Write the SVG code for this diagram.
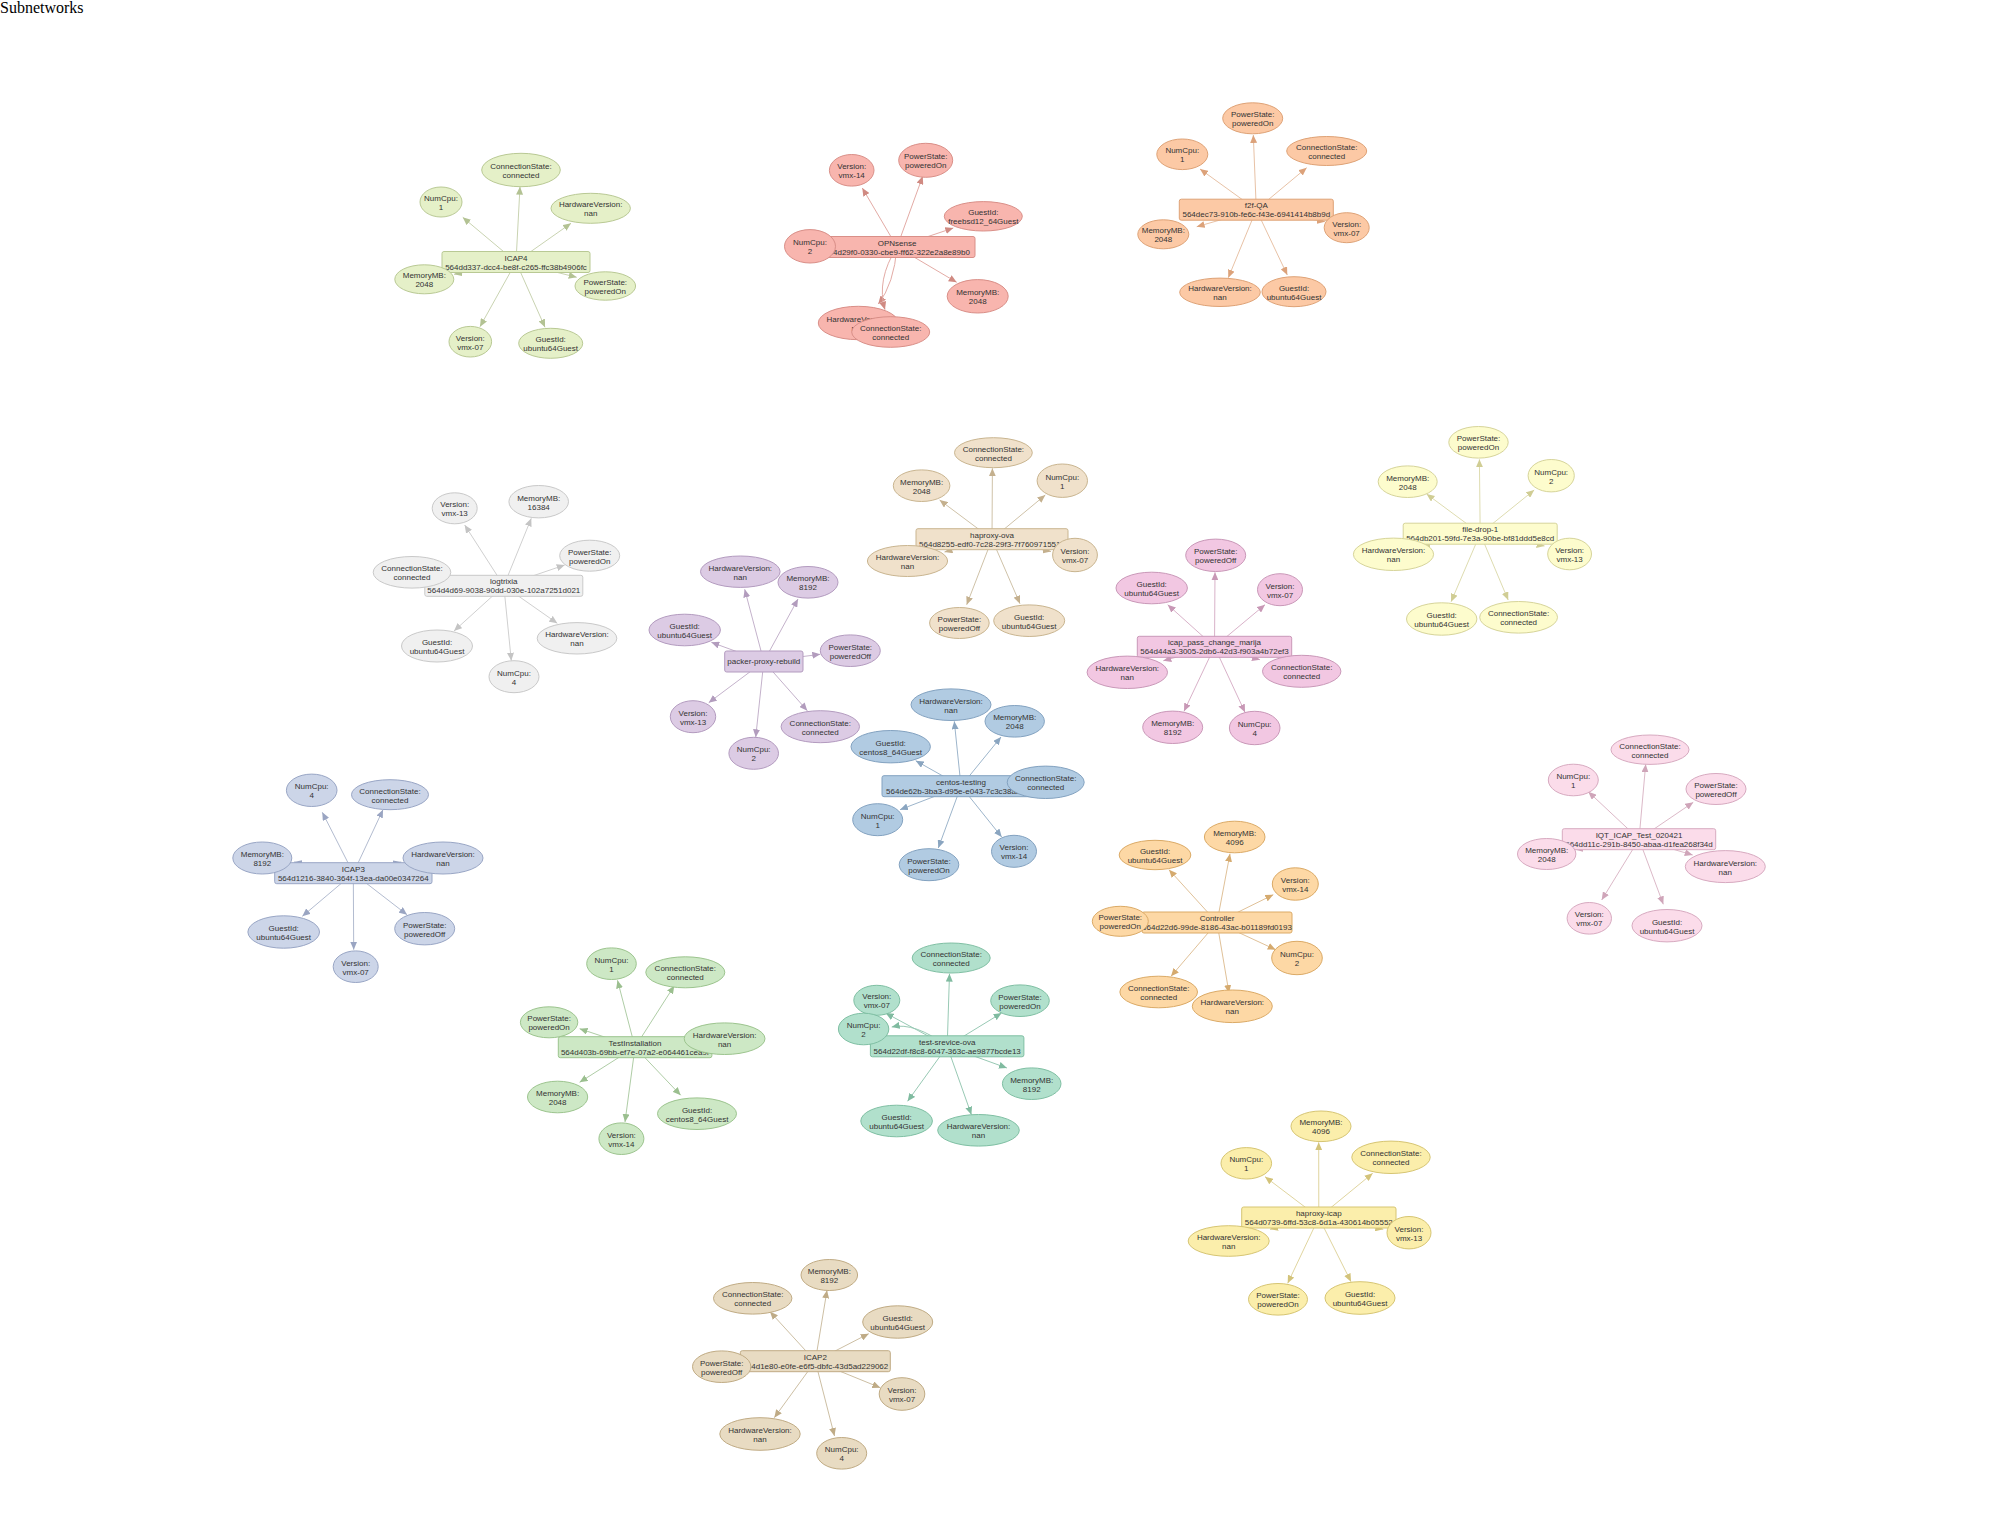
<svg xmlns="http://www.w3.org/2000/svg" width="1992" height="1534" viewBox="0 0 1992 1534">
<style>
text{font-family:"Liberation Sans",Arial,sans-serif;font-size:8px;fill:#333;text-anchor:middle}
.title{font-family:"Liberation Serif","Times New Roman",serif;font-size:16px;fill:#000;text-anchor:start}
ellipse,rect{stroke-width:1}
#edges line,#edges path{fill:none;stroke-width:1}
.c1 ellipse,.c1 rect{fill:#e5f0c8;stroke:#b9c994}.k1 *{stroke:#c9d3b1;marker-end:url(#a1)}
.c2 ellipse,.c2 rect{fill:#f8b5ae;stroke:#d98f88}.k2 *{stroke:#e3aba5;marker-end:url(#a2)}
.c3 ellipse,.c3 rect{fill:#fcc9a5;stroke:#dea276}.k3 *{stroke:#e8c2a6;marker-end:url(#a3)}
.c4 ellipse,.c4 rect{fill:#f0f0f0;stroke:#c9c9c9}.k4 *{stroke:#d0d0d0;marker-end:url(#a4)}
.c5 ellipse,.c5 rect{fill:#f0e1cb;stroke:#c9b590}.k5 *{stroke:#cfc2a8;marker-end:url(#a5)}
.c6 ellipse,.c6 rect{fill:#fdfccd;stroke:#d6d49a}.k6 *{stroke:#dedcb0;marker-end:url(#a6)}
.c7 ellipse,.c7 rect{fill:#dccbe4;stroke:#b39bbf}.k7 *{stroke:#c4b2cb;marker-end:url(#a7)}
.c8 ellipse,.c8 rect{fill:#f2c7e2;stroke:#c998b8}.k8 *{stroke:#d9b2c9;marker-end:url(#a8)}
.c9 ellipse,.c9 rect{fill:#b1cbe2;stroke:#83a2c0}.k9 *{stroke:#9db5cb;marker-end:url(#a9)}
.c10 ellipse,.c10 rect{fill:#ccd5e8;stroke:#99a6c5}.k10 *{stroke:#b3bcd0;marker-end:url(#a10)}
.c11 ellipse,.c11 rect{fill:#fbdcea;stroke:#d7aac0}.k11 *{stroke:#dcb9c8;marker-end:url(#a11)}
.c12 ellipse,.c12 rect{fill:#fdd8a5;stroke:#dbaa66}.k12 *{stroke:#e0c198;marker-end:url(#a12)}
.c13 ellipse,.c13 rect{fill:#cde8c5;stroke:#9cc48e}.k13 *{stroke:#afcda6;marker-end:url(#a13)}
.c14 ellipse,.c14 rect{fill:#b1e0cc;stroke:#7fbfa3}.k14 *{stroke:#98c9b4;marker-end:url(#a14)}
.c15 ellipse,.c15 rect{fill:#fbeeab;stroke:#d6c573}.k15 *{stroke:#e0d59f;marker-end:url(#a15)}
.c16 ellipse,.c16 rect{fill:#e8dbc2;stroke:#c0ab84}.k16 *{stroke:#cdbfa4;marker-end:url(#a16)}
</style>
<defs>
<marker id="a1" viewBox="0 0 8 7" refX="8" refY="3.5" markerWidth="8" markerHeight="7" markerUnits="userSpaceOnUse" orient="auto"><path d="M0,0L8,3.5L0,7z" fill="#b3c293"/></marker>
<marker id="a2" viewBox="0 0 8 7" refX="8" refY="3.5" markerWidth="8" markerHeight="7" markerUnits="userSpaceOnUse" orient="auto"><path d="M0,0L8,3.5L0,7z" fill="#d08a82"/></marker>
<marker id="a3" viewBox="0 0 8 7" refX="8" refY="3.5" markerWidth="8" markerHeight="7" markerUnits="userSpaceOnUse" orient="auto"><path d="M0,0L8,3.5L0,7z" fill="#dca27a"/></marker>
<marker id="a4" viewBox="0 0 8 7" refX="8" refY="3.5" markerWidth="8" markerHeight="7" markerUnits="userSpaceOnUse" orient="auto"><path d="M0,0L8,3.5L0,7z" fill="#c4c4c4"/></marker>
<marker id="a5" viewBox="0 0 8 7" refX="8" refY="3.5" markerWidth="8" markerHeight="7" markerUnits="userSpaceOnUse" orient="auto"><path d="M0,0L8,3.5L0,7z" fill="#c4b08e"/></marker>
<marker id="a6" viewBox="0 0 8 7" refX="8" refY="3.5" markerWidth="8" markerHeight="7" markerUnits="userSpaceOnUse" orient="auto"><path d="M0,0L8,3.5L0,7z" fill="#d0cd94"/></marker>
<marker id="a7" viewBox="0 0 8 7" refX="8" refY="3.5" markerWidth="8" markerHeight="7" markerUnits="userSpaceOnUse" orient="auto"><path d="M0,0L8,3.5L0,7z" fill="#b29cbd"/></marker>
<marker id="a8" viewBox="0 0 8 7" refX="8" refY="3.5" markerWidth="8" markerHeight="7" markerUnits="userSpaceOnUse" orient="auto"><path d="M0,0L8,3.5L0,7z" fill="#c898b6"/></marker>
<marker id="a9" viewBox="0 0 8 7" refX="8" refY="3.5" markerWidth="8" markerHeight="7" markerUnits="userSpaceOnUse" orient="auto"><path d="M0,0L8,3.5L0,7z" fill="#8aa5c0"/></marker>
<marker id="a10" viewBox="0 0 8 7" refX="8" refY="3.5" markerWidth="8" markerHeight="7" markerUnits="userSpaceOnUse" orient="auto"><path d="M0,0L8,3.5L0,7z" fill="#9aa5c2"/></marker>
<marker id="a11" viewBox="0 0 8 7" refX="8" refY="3.5" markerWidth="8" markerHeight="7" markerUnits="userSpaceOnUse" orient="auto"><path d="M0,0L8,3.5L0,7z" fill="#cfa5b9"/></marker>
<marker id="a12" viewBox="0 0 8 7" refX="8" refY="3.5" markerWidth="8" markerHeight="7" markerUnits="userSpaceOnUse" orient="auto"><path d="M0,0L8,3.5L0,7z" fill="#d5aa6e"/></marker>
<marker id="a13" viewBox="0 0 8 7" refX="8" refY="3.5" markerWidth="8" markerHeight="7" markerUnits="userSpaceOnUse" orient="auto"><path d="M0,0L8,3.5L0,7z" fill="#9bbf8f"/></marker>
<marker id="a14" viewBox="0 0 8 7" refX="8" refY="3.5" markerWidth="8" markerHeight="7" markerUnits="userSpaceOnUse" orient="auto"><path d="M0,0L8,3.5L0,7z" fill="#80bba0"/></marker>
<marker id="a15" viewBox="0 0 8 7" refX="8" refY="3.5" markerWidth="8" markerHeight="7" markerUnits="userSpaceOnUse" orient="auto"><path d="M0,0L8,3.5L0,7z" fill="#d3c37a"/></marker>
<marker id="a16" viewBox="0 0 8 7" refX="8" refY="3.5" markerWidth="8" markerHeight="7" markerUnits="userSpaceOnUse" orient="auto"><path d="M0,0L8,3.5L0,7z" fill="#bfab86"/></marker>
</defs>
<rect width="1992" height="1534" fill="#fff"/>
<text class="title" x="0" y="13">Subnetworks</text>
<g id="edges">
<g class="k1">
<line x1="516" y1="262" x2="462.7" y2="217.3"/><line x1="516" y1="262" x2="520" y2="186.7"/><line x1="516" y1="262" x2="571" y2="223.3"/><line x1="516" y1="262" x2="454" y2="274.3"/><line x1="516" y1="262" x2="576.7" y2="277.3"/><line x1="516" y1="262" x2="480" y2="326.7"/><line x1="516" y1="262" x2="545" y2="327.3"/>
</g>
<g class="k2">
<line x1="897" y1="247" x2="862.3" y2="188"/><line x1="897" y1="247" x2="922.7" y2="176.3"/><line x1="897" y1="247" x2="953.3" y2="228"/><line x1="897" y1="247" x2="835.5" y2="246.5"/><line x1="897" y1="247" x2="956.7" y2="282.3"/><path d="M897,247Q894,284 878.3,304"/><path d="M897,247Q876,280 885,309.7"/>
</g>
<g class="k3">
<line x1="1256.3" y1="209.7" x2="1253.3" y2="135"/><line x1="1256.3" y1="209.7" x2="1200" y2="169"/><line x1="1256.3" y1="209.7" x2="1306.7" y2="167.7"/><line x1="1256.3" y1="209.7" x2="1196.7" y2="226.7"/><line x1="1256.3" y1="209.7" x2="1325" y2="221.7"/><line x1="1256.3" y1="209.7" x2="1228.3" y2="277.7"/><line x1="1256.3" y1="209.7" x2="1287.3" y2="275"/>
</g>
<g class="k4">
<line x1="503.8" y1="585.8" x2="464.7" y2="525"/><line x1="503.8" y1="585.8" x2="531.3" y2="518.3"/><line x1="503.8" y1="585.8" x2="564.7" y2="565"/><line x1="503.8" y1="585.8" x2="448.5" y2="577.7"/><line x1="503.8" y1="585.8" x2="454" y2="631"/><line x1="503.8" y1="585.8" x2="557.3" y2="623.3"/><line x1="503.8" y1="585.8" x2="511.3" y2="660.7"/>
</g>
<g class="k5">
<line x1="992" y1="539.2" x2="992.4" y2="468.3"/><line x1="992" y1="539.2" x2="939.6" y2="500"/><line x1="992" y1="539.2" x2="1045.3" y2="495"/><line x1="992" y1="539.2" x2="944.5" y2="552"/><line x1="992" y1="539.2" x2="1051" y2="551.5"/><line x1="992" y1="539.2" x2="966.7" y2="604.7"/><line x1="992" y1="539.2" x2="1020" y2="603.7"/>
</g>
<g class="k6">
<line x1="1480.2" y1="533.7" x2="1479.4" y2="459.3"/><line x1="1480.2" y1="533.7" x2="1426.6" y2="494"/><line x1="1480.2" y1="533.7" x2="1534.2" y2="490"/><line x1="1480.2" y1="533.7" x2="1421.9" y2="546"/><line x1="1480.2" y1="533.7" x2="1544.6" y2="546"/><line x1="1480.2" y1="533.7" x2="1451.1" y2="601.7"/><line x1="1480.2" y1="533.7" x2="1508.2" y2="600"/>
</g>
<g class="k7">
<line x1="763.8" y1="661.5" x2="744.7" y2="589.3"/><line x1="763.8" y1="661.5" x2="798" y2="599"/><line x1="763.8" y1="661.5" x2="711.3" y2="642.3"/><line x1="763.8" y1="661.5" x2="820.3" y2="654.3"/><line x1="763.8" y1="661.5" x2="708.7" y2="702.7"/><line x1="763.8" y1="661.5" x2="807.3" y2="710.7"/><line x1="763.8" y1="661.5" x2="755.7" y2="737.3"/>
</g>
<g class="k8">
<line x1="1214.5" y1="646.8" x2="1215" y2="572.3"/><line x1="1214.5" y1="646.8" x2="1167.7" y2="604.7"/><line x1="1214.5" y1="646.8" x2="1265" y2="604.7"/><line x1="1214.5" y1="646.8" x2="1163.3" y2="660.7"/><line x1="1214.5" y1="646.8" x2="1260" y2="659.7"/><line x1="1214.5" y1="646.8" x2="1184" y2="711.3"/><line x1="1214.5" y1="646.8" x2="1245" y2="712.3"/>
</g>
<g class="k9">
<line x1="961" y1="786.2" x2="954.3" y2="721.3"/><line x1="961" y1="786.2" x2="1001" y2="737"/><line x1="961" y1="786.2" x2="915.7" y2="760.7"/><line x1="961" y1="786.2" x2="1007.2" y2="784"/><line x1="961" y1="786.2" x2="900" y2="809.7"/><line x1="961" y1="786.2" x2="938.3" y2="848"/><line x1="961" y1="786.2" x2="1001.7" y2="837"/>
</g>
<g class="k10">
<line x1="353.3" y1="873.2" x2="322.3" y2="812.3"/><line x1="353.3" y1="873.2" x2="383" y2="809.7"/><line x1="353.3" y1="873.2" x2="294" y2="862"/><line x1="353.3" y1="873.2" x2="401.3" y2="862"/><line x1="353.3" y1="873.2" x2="302.3" y2="916.3"/><line x1="353.3" y1="873.2" x2="407" y2="914.7"/><line x1="353.3" y1="873.2" x2="353.7" y2="949.7"/>
</g>
<g class="k11">
<line x1="1639" y1="839.2" x2="1588.3" y2="791.7"/><line x1="1639" y1="839.2" x2="1645.7" y2="764.3"/><line x1="1639" y1="839.2" x2="1693.3" y2="802.3"/><line x1="1639" y1="839.2" x2="1574.7" y2="849.5"/><line x1="1639" y1="839.2" x2="1692.7" y2="855"/><line x1="1639" y1="839.2" x2="1601.7" y2="900"/><line x1="1639" y1="839.2" x2="1663.3" y2="904.3"/>
</g>
<g class="k12">
<line x1="1217" y1="922.5" x2="1169" y2="869.7"/><line x1="1217" y1="922.5" x2="1230" y2="853.7"/><line x1="1217" y1="922.5" x2="1273.3" y2="894.7"/><line x1="1217" y1="922.5" x2="1148.3" y2="921.6"/><line x1="1217" y1="922.5" x2="1275.7" y2="949.7"/><line x1="1217" y1="922.5" x2="1171" y2="976.3"/><line x1="1217" y1="922.5" x2="1229" y2="993"/>
</g>
<g class="k13">
<line x1="635" y1="1047.2" x2="617.5" y2="980.3"/><line x1="635" y1="1047.2" x2="674.3" y2="985.7"/><line x1="635" y1="1047.2" x2="579.6" y2="1028.7"/><line x1="635" y1="1047.2" x2="685.4" y2="1042.4"/><line x1="635" y1="1047.2" x2="579.6" y2="1082.3"/><line x1="635" y1="1047.2" x2="680.7" y2="1095.3"/><line x1="635" y1="1047.2" x2="625" y2="1122"/>
</g>
<g class="k14">
<line x1="947.2" y1="1046.3" x2="949.5" y2="973.7"/><line x1="947.2" y1="1046.3" x2="885.6" y2="1013"/><line x1="947.2" y1="1046.3" x2="1001.6" y2="1013"/><path d="M947.2,1046.3Q915,1022 891.7,1027"/><line x1="947.2" y1="1046.3" x2="1006.9" y2="1068"/><line x1="947.2" y1="1046.3" x2="907.6" y2="1101.3"/><line x1="947.2" y1="1046.3" x2="971.4" y2="1114.7"/>
</g>
<g class="k15">
<line x1="1318.8" y1="1217.5" x2="1318.7" y2="1142.3"/><line x1="1318.8" y1="1217.5" x2="1265" y2="1176.7"/><line x1="1318.8" y1="1217.5" x2="1372.7" y2="1173.3"/><line x1="1318.8" y1="1217.5" x2="1270" y2="1229.3"/><line x1="1318.8" y1="1217.5" x2="1383.3" y2="1229.3"/><line x1="1318.8" y1="1217.5" x2="1287.7" y2="1283.3"/><line x1="1318.8" y1="1217.5" x2="1351" y2="1281.7"/>
</g>
<g class="k16">
<line x1="815.3" y1="1361.2" x2="770" y2="1311.7"/><line x1="815.3" y1="1361.2" x2="827" y2="1290.3"/><line x1="815.3" y1="1361.2" x2="868.7" y2="1333.7"/><line x1="815.3" y1="1361.2" x2="750.9" y2="1365"/><line x1="815.3" y1="1361.2" x2="880.3" y2="1387.7"/><line x1="815.3" y1="1361.2" x2="774.3" y2="1417.7"/><line x1="815.3" y1="1361.2" x2="834.5" y2="1436"/>
</g>
</g>
<g id="vms">
<g id="icap4" class="c1"><rect x="442" y="251.5" width="148" height="21" rx="2"/><text x="516" y="260.5">ICAP4<tspan x="516" dy="9">564dd337-dcc4-be8f-c265-ffc38b4906fc</tspan></text></g>
<g id="opnsense" class="c2"><rect x="819" y="236.5" width="156" height="21" rx="2"/><text x="897" y="245.5">OPNsense<tspan x="897" dy="9">564d29f0-0330-cbe9-ff62-322e2a8e89b0</tspan></text></g>
<g id="f2f-qa" class="c3"><rect x="1179.3" y="199.2" width="154" height="21" rx="2"/><text x="1256.3" y="208.2">f2f-QA<tspan x="1256.3" dy="9">564dec73-910b-fe6c-f43e-6941414b8b9d</tspan></text></g>
<g id="logtrixia" class="c4"><rect x="424.8" y="575.3" width="158" height="21" rx="2"/><text x="503.8" y="584.3">logtrixia<tspan x="503.8" dy="9">564d4d69-9038-90dd-030e-102a7251d021</tspan></text></g>
<g id="haproxy-ova" class="c5"><rect x="916" y="528.7" width="152" height="21" rx="2"/><text x="992" y="537.7">haproxy-ova<tspan x="992" dy="9">564d8255-edf0-7c28-29f3-7f7609715510</tspan></text></g>
<g id="file-drop-1" class="c6"><rect x="1403.2" y="523.2" width="154" height="21" rx="2"/><text x="1480.2" y="532.2">file-drop-1<tspan x="1480.2" dy="9">564db201-59fd-7e3a-90be-bf81ddd5e8cd</tspan></text></g>
<g id="packer-proxy-rebuild" class="c7"><rect x="724.7" y="651" width="78.3" height="21" rx="2"/><text x="763.8" y="664.3">packer-proxy-rebuild</text></g>
<g id="icap_pass_change_marija" class="c8"><rect x="1137.3" y="636.3" width="154.4" height="21" rx="2"/><text x="1214.5" y="645.3">icap_pass_change_marija<tspan x="1214.5" dy="9">564d44a3-3005-2db6-42d3-f903a4b72ef3</tspan></text></g>
<g id="centos-testing" class="c9"><rect x="882" y="775.7" width="158" height="21" rx="2"/><text x="961" y="784.7">centos-testing<tspan x="961" dy="9">564de62b-3ba3-d95e-e043-7c3c38a2f1d4</tspan></text></g>
<g id="icap3" class="c10"><rect x="274.7" y="862.7" width="157.3" height="21" rx="2"/><text x="353.3" y="871.7">ICAP3<tspan x="353.3" dy="9">564d1216-3840-364f-13ea-da00e0347264</tspan></text></g>
<g id="iqt_icap_test_020421" class="c11"><rect x="1562.3" y="828.7" width="153.4" height="21" rx="2"/><text x="1639" y="837.7">IQT_ICAP_Test_020421<tspan x="1639" dy="9">564dd11c-291b-8450-abaa-d1fea268f34d</tspan></text></g>
<g id="controller" class="c12"><rect x="1142" y="912" width="150" height="21" rx="2"/><text x="1217" y="921">Controller<tspan x="1217" dy="9">564d22d6-99de-8186-43ac-b01189fd0193</tspan></text></g>
<g id="testinstallation" class="c13"><rect x="558.3" y="1036.7" width="153.6" height="21" rx="2"/><text x="635" y="1045.7">TestInstallation<tspan x="635" dy="9">564d403b-69bb-ef7e-07a2-e064461cea9f</tspan></text></g>
<g id="test-srevice-ova" class="c14"><rect x="870.4" y="1035.8" width="153.5" height="21" rx="2"/><text x="947.2" y="1044.8">test-srevice-ova<tspan x="947.2" dy="9">564d22df-f8c8-6047-363c-ae9877bcde13</tspan></text></g>
<g id="haproxy-icap" class="c15"><rect x="1241.7" y="1207" width="154.3" height="21" rx="2"/><text x="1318.8" y="1216">haproxy-icap<tspan x="1318.8" dy="9">564d0739-6ffd-53c8-6d1a-430614b05552</tspan></text></g>
<g id="icap2" class="c16"><rect x="740.3" y="1350.7" width="150" height="21" rx="2"/><text x="815.3" y="1359.7">ICAP2<tspan x="815.3" dy="9">564d1e80-e0fe-e6f5-dbfc-43d5ad229062</tspan></text></g>
</g>
<g id="attributes">
<g id="icap4-numcpu" class="c1"><ellipse cx="441" cy="202" rx="21" ry="15"/><text x="441" y="201">NumCpu:<tspan x="441" dy="9">1</tspan></text></g>
<g id="icap4-conn" class="c1"><ellipse cx="521" cy="170" rx="39.3" ry="16.7"/><text x="521" y="169">ConnectionState:<tspan x="521" dy="9">connected</tspan></text></g>
<g id="icap4-hw" class="c1"><ellipse cx="590.7" cy="208.3" rx="39.7" ry="15"/><text x="590.7" y="207.3">HardwareVersion:<tspan x="590.7" dy="9">nan</tspan></text></g>
<g id="icap4-mem" class="c1"><ellipse cx="424.3" cy="279.3" rx="29.5" ry="14.5"/><text x="424.3" y="278.3">MemoryMB:<tspan x="424.3" dy="9">2048</tspan></text></g>
<g id="icap4-power" class="c1"><ellipse cx="605.3" cy="286" rx="30.3" ry="14.2"/><text x="605.3" y="285">PowerState:<tspan x="605.3" dy="9">poweredOn</tspan></text></g>
<g id="icap4-ver" class="c1"><ellipse cx="470.3" cy="341.7" rx="21.3" ry="15.3"/><text x="470.3" y="340.7">Version:<tspan x="470.3" dy="9">vmx-07</tspan></text></g>
<g id="icap4-guest" class="c1"><ellipse cx="550.7" cy="343.3" rx="32" ry="15"/><text x="550.7" y="342.3">GuestId:<tspan x="550.7" dy="9">ubuntu64Guest</tspan></text></g>

<g id="opn-ver" class="c2"><ellipse cx="851.7" cy="170.3" rx="22.3" ry="15.8"/><text x="851.7" y="169.3">Version:<tspan x="851.7" dy="9">vmx-14</tspan></text></g>
<g id="opn-power" class="c2"><ellipse cx="925.7" cy="160.3" rx="27" ry="17"/><text x="925.7" y="159.3">PowerState:<tspan x="925.7" dy="9">poweredOn</tspan></text></g>
<g id="opn-guest" class="c2"><ellipse cx="983.3" cy="216.3" rx="39" ry="14.7"/><text x="983.3" y="215.3">GuestId:<tspan x="983.3" dy="9">freebsd12_64Guest</tspan></text></g>
<g id="opn-numcpu" class="c2"><ellipse cx="810" cy="246.3" rx="25.5" ry="16.7"/><text x="810" y="245.3">NumCpu:<tspan x="810" dy="9">2</tspan></text></g>
<g id="opn-mem" class="c2"><ellipse cx="977.7" cy="296.3" rx="30.5" ry="16.7"/><text x="977.7" y="295.3">MemoryMB:<tspan x="977.7" dy="9">2048</tspan></text></g>
<g id="opn-hw" class="c2"><ellipse cx="858.3" cy="323" rx="40" ry="16.7"/><text x="858.3" y="322">HardwareVersion:<tspan x="858.3" dy="9">nan</tspan></text></g>
<g id="opn-conn" class="c2"><ellipse cx="890.7" cy="332" rx="39" ry="15.3"/><text x="890.7" y="331">ConnectionState:<tspan x="890.7" dy="9">connected</tspan></text></g>

<g id="f2f-power" class="c3"><ellipse cx="1252.7" cy="118.3" rx="30" ry="15.5"/><text x="1252.7" y="117.3">PowerState:<tspan x="1252.7" dy="9">poweredOn</tspan></text></g>
<g id="f2f-numcpu" class="c3"><ellipse cx="1182.3" cy="154.3" rx="25.5" ry="15.3"/><text x="1182.3" y="153.3">NumCpu:<tspan x="1182.3" dy="9">1</tspan></text></g>
<g id="f2f-conn" class="c3"><ellipse cx="1326.7" cy="151" rx="40" ry="14.5"/><text x="1326.7" y="150">ConnectionState:<tspan x="1326.7" dy="9">connected</tspan></text></g>
<g id="f2f-mem" class="c3"><ellipse cx="1163.3" cy="234.3" rx="25.5" ry="14.5"/><text x="1163.3" y="233.3">MemoryMB:<tspan x="1163.3" dy="9">2048</tspan></text></g>
<g id="f2f-ver" class="c3"><ellipse cx="1346.7" cy="227.7" rx="22.5" ry="15"/><text x="1346.7" y="226.7">Version:<tspan x="1346.7" dy="9">vmx-07</tspan></text></g>
<g id="f2f-hw" class="c3"><ellipse cx="1220" cy="292.3" rx="40.3" ry="14.2"/><text x="1220" y="291.3">HardwareVersion:<tspan x="1220" dy="9">nan</tspan></text></g>
<g id="f2f-guest" class="c3"><ellipse cx="1294" cy="291.7" rx="32" ry="15"/><text x="1294" y="290.7">GuestId:<tspan x="1294" dy="9">ubuntu64Guest</tspan></text></g>

<g id="log-ver" class="c4"><ellipse cx="454.7" cy="508.3" rx="22.5" ry="15.5"/><text x="454.7" y="507.3">Version:<tspan x="454.7" dy="9">vmx-13</tspan></text></g>
<g id="log-mem" class="c4"><ellipse cx="538.7" cy="501.7" rx="29.8" ry="16.2"/><text x="538.7" y="500.7">MemoryMB:<tspan x="538.7" dy="9">16384</tspan></text></g>
<g id="log-power" class="c4"><ellipse cx="589.7" cy="555.7" rx="30" ry="15.5"/><text x="589.7" y="554.7">PowerState:<tspan x="589.7" dy="9">poweredOn</tspan></text></g>
<g id="log-conn" class="c4"><ellipse cx="412" cy="572.3" rx="38.8" ry="15.8"/><text x="412" y="571.3">ConnectionState:<tspan x="412" dy="9">connected</tspan></text></g>
<g id="log-guest" class="c4"><ellipse cx="437" cy="646" rx="35.5" ry="16"/><text x="437" y="645">GuestId:<tspan x="437" dy="9">ubuntu64Guest</tspan></text></g>
<g id="log-hw" class="c4"><ellipse cx="577" cy="638.3" rx="39.8" ry="15.7"/><text x="577" y="637.3">HardwareVersion:<tspan x="577" dy="9">nan</tspan></text></g>
<g id="log-numcpu" class="c4"><ellipse cx="514" cy="676.7" rx="25" ry="16"/><text x="514" y="675.7">NumCpu:<tspan x="514" dy="9">4</tspan></text></g>

<g id="hova-conn" class="c5"><ellipse cx="993.4" cy="452.7" rx="38.9" ry="15"/><text x="993.4" y="451.7">ConnectionState:<tspan x="993.4" dy="9">connected</tspan></text></g>
<g id="hova-mem" class="c5"><ellipse cx="921.6" cy="485.7" rx="28.3" ry="15.8"/><text x="921.6" y="484.7">MemoryMB:<tspan x="921.6" dy="9">2048</tspan></text></g>
<g id="hova-numcpu" class="c5"><ellipse cx="1062.3" cy="480.7" rx="25.2" ry="16.7"/><text x="1062.3" y="479.7">NumCpu:<tspan x="1062.3" dy="9">1</tspan></text></g>
<g id="hova-hw" class="c5"><ellipse cx="907.5" cy="561" rx="40.1" ry="15.5"/><text x="907.5" y="560">HardwareVersion:<tspan x="907.5" dy="9">nan</tspan></text></g>
<g id="hova-ver" class="c5"><ellipse cx="1075" cy="555" rx="22.4" ry="16.7"/><text x="1075" y="554">Version:<tspan x="1075" dy="9">vmx-07</tspan></text></g>
<g id="hova-power" class="c5"><ellipse cx="959.4" cy="623" rx="29.8" ry="15.5"/><text x="959.4" y="622">PowerState:<tspan x="959.4" dy="9">poweredOff</tspan></text></g>
<g id="hova-guest" class="c5"><ellipse cx="1029.2" cy="620.7" rx="35.5" ry="15.8"/><text x="1029.2" y="619.7">GuestId:<tspan x="1029.2" dy="9">ubuntu64Guest</tspan></text></g>

<g id="fd-power" class="c6"><ellipse cx="1478.5" cy="442.3" rx="29.7" ry="15.8"/><text x="1478.5" y="441.3">PowerState:<tspan x="1478.5" dy="9">poweredOn</tspan></text></g>
<g id="fd-mem" class="c6"><ellipse cx="1407.7" cy="481.7" rx="29.5" ry="15.8"/><text x="1407.7" y="480.7">MemoryMB:<tspan x="1407.7" dy="9">2048</tspan></text></g>
<g id="fd-numcpu" class="c6"><ellipse cx="1551.2" cy="475.7" rx="23.1" ry="16.2"/><text x="1551.2" y="474.7">NumCpu:<tspan x="1551.2" dy="9">2</tspan></text></g>
<g id="fd-hw" class="c6"><ellipse cx="1393.5" cy="554.3" rx="40.1" ry="16.2"/><text x="1393.5" y="553.3">HardwareVersion:<tspan x="1393.5" dy="9">nan</tspan></text></g>
<g id="fd-ver" class="c6"><ellipse cx="1569.6" cy="554" rx="21.9" ry="15.8"/><text x="1569.6" y="553">Version:<tspan x="1569.6" dy="9">vmx-13</tspan></text></g>
<g id="fd-guest" class="c6"><ellipse cx="1441.7" cy="619" rx="35.2" ry="16.2"/><text x="1441.7" y="618">GuestId:<tspan x="1441.7" dy="9">ubuntu64Guest</tspan></text></g>
<g id="fd-conn" class="c6"><ellipse cx="1518.6" cy="617.3" rx="38.9" ry="15.8"/><text x="1518.6" y="616.3">ConnectionState:<tspan x="1518.6" dy="9">connected</tspan></text></g>

<g id="ppr-hw" class="c7"><ellipse cx="740.3" cy="571.7" rx="39.8" ry="15.7"/><text x="740.3" y="570.7">HardwareVersion:<tspan x="740.3" dy="9">nan</tspan></text></g>
<g id="ppr-mem" class="c7"><ellipse cx="808" cy="582.3" rx="30" ry="15.8"/><text x="808" y="581.3">MemoryMB:<tspan x="808" dy="9">8192</tspan></text></g>
<g id="ppr-guest" class="c7"><ellipse cx="684.7" cy="630" rx="35.7" ry="15.8"/><text x="684.7" y="629">GuestId:<tspan x="684.7" dy="9">ubuntu64Guest</tspan></text></g>
<g id="ppr-power" class="c7"><ellipse cx="850.3" cy="650.7" rx="30" ry="15.8"/><text x="850.3" y="649.7">PowerState:<tspan x="850.3" dy="9">poweredOff</tspan></text></g>
<g id="ppr-ver" class="c7"><ellipse cx="693" cy="716.7" rx="22.7" ry="16"/><text x="693" y="715.7">Version:<tspan x="693" dy="9">vmx-13</tspan></text></g>
<g id="ppr-conn" class="c7"><ellipse cx="820.3" cy="726.7" rx="39.2" ry="16"/><text x="820.3" y="725.7">ConnectionState:<tspan x="820.3" dy="9">connected</tspan></text></g>
<g id="ppr-numcpu" class="c7"><ellipse cx="753.7" cy="753.3" rx="24.8" ry="16"/><text x="753.7" y="752.3">NumCpu:<tspan x="753.7" dy="9">2</tspan></text></g>

<g id="ipc-power" class="c8"><ellipse cx="1215.7" cy="555.3" rx="30" ry="16.2"/><text x="1215.7" y="554.3">PowerState:<tspan x="1215.7" dy="9">poweredOff</tspan></text></g>
<g id="ipc-guest" class="c8"><ellipse cx="1151.7" cy="588" rx="35.7" ry="15.8"/><text x="1151.7" y="587">GuestId:<tspan x="1151.7" dy="9">ubuntu64Guest</tspan></text></g>
<g id="ipc-ver" class="c8"><ellipse cx="1280" cy="589.7" rx="22.5" ry="16"/><text x="1280" y="588.7">Version:<tspan x="1280" dy="9">vmx-07</tspan></text></g>
<g id="ipc-hw" class="c8"><ellipse cx="1127.3" cy="672.3" rx="40.2" ry="16.2"/><text x="1127.3" y="671.3">HardwareVersion:<tspan x="1127.3" dy="9">nan</tspan></text></g>
<g id="ipc-conn" class="c8"><ellipse cx="1301.7" cy="671.3" rx="39.2" ry="16"/><text x="1301.7" y="670.3">ConnectionState:<tspan x="1301.7" dy="9">connected</tspan></text></g>
<g id="ipc-mem" class="c8"><ellipse cx="1172.7" cy="727.3" rx="30" ry="16.2"/><text x="1172.7" y="726.3">MemoryMB:<tspan x="1172.7" dy="9">8192</tspan></text></g>
<g id="ipc-numcpu" class="c8"><ellipse cx="1254.7" cy="728" rx="25.3" ry="16.7"/><text x="1254.7" y="727">NumCpu:<tspan x="1254.7" dy="9">4</tspan></text></g>

<g id="ct-hw" class="c9"><ellipse cx="951" cy="704.7" rx="40" ry="15.8"/><text x="951" y="703.7">HardwareVersion:<tspan x="951" dy="9">nan</tspan></text></g>
<g id="ct-mem" class="c9"><ellipse cx="1014.7" cy="721.3" rx="29.7" ry="15.8"/><text x="1014.7" y="720.3">MemoryMB:<tspan x="1014.7" dy="9">2048</tspan></text></g>
<g id="ct-guest" class="c9"><ellipse cx="890.7" cy="746.7" rx="39.7" ry="16.2"/><text x="890.7" y="745.7">GuestId:<tspan x="890.7" dy="9">centos8_64Guest</tspan></text></g>
<g id="ct-conn" class="c9"><ellipse cx="1045.7" cy="782.3" rx="38.5" ry="16.2"/><text x="1045.7" y="781.3">ConnectionState:<tspan x="1045.7" dy="9">connected</tspan></text></g>
<g id="ct-numcpu" class="c9"><ellipse cx="877.7" cy="819.7" rx="25" ry="16"/><text x="877.7" y="818.7">NumCpu:<tspan x="877.7" dy="9">1</tspan></text></g>
<g id="ct-power" class="c9"><ellipse cx="929" cy="864.7" rx="29.8" ry="16"/><text x="929" y="863.7">PowerState:<tspan x="929" dy="9">poweredOn</tspan></text></g>
<g id="ct-ver" class="c9"><ellipse cx="1014" cy="851.3" rx="22.5" ry="16"/><text x="1014" y="850.3">Version:<tspan x="1014" dy="9">vmx-14</tspan></text></g>

<g id="icap3-numcpu" class="c10"><ellipse cx="311.7" cy="790.3" rx="25.3" ry="16.2"/><text x="311.7" y="789.3">NumCpu:<tspan x="311.7" dy="9">4</tspan></text></g>
<g id="icap3-conn" class="c10"><ellipse cx="390" cy="794.7" rx="38.5" ry="15"/><text x="390" y="793.7">ConnectionState:<tspan x="390" dy="9">connected</tspan></text></g>
<g id="icap3-mem" class="c10"><ellipse cx="262.3" cy="858" rx="29.5" ry="16"/><text x="262.3" y="857">MemoryMB:<tspan x="262.3" dy="9">8192</tspan></text></g>
<g id="icap3-hw" class="c10"><ellipse cx="443" cy="858" rx="40" ry="16"/><text x="443" y="857">HardwareVersion:<tspan x="443" dy="9">nan</tspan></text></g>
<g id="icap3-guest" class="c10"><ellipse cx="283.7" cy="932" rx="35.8" ry="16.2"/><text x="283.7" y="931">GuestId:<tspan x="283.7" dy="9">ubuntu64Guest</tspan></text></g>
<g id="icap3-power" class="c10"><ellipse cx="424.7" cy="928.7" rx="30" ry="16.2"/><text x="424.7" y="927.7">PowerState:<tspan x="424.7" dy="9">poweredOff</tspan></text></g>
<g id="icap3-ver" class="c10"><ellipse cx="355.7" cy="966.7" rx="22.5" ry="15.8"/><text x="355.7" y="965.7">Version:<tspan x="355.7" dy="9">vmx-07</tspan></text></g>

<g id="iqt-numcpu" class="c11"><ellipse cx="1573.3" cy="780" rx="25" ry="15.8"/><text x="1573.3" y="779">NumCpu:<tspan x="1573.3" dy="9">1</tspan></text></g>
<g id="iqt-conn" class="c11"><ellipse cx="1650" cy="749.7" rx="39" ry="14.7"/><text x="1650" y="748.7">ConnectionState:<tspan x="1650" dy="9">connected</tspan></text></g>
<g id="iqt-power" class="c11"><ellipse cx="1716" cy="789" rx="30" ry="15.5"/><text x="1716" y="788">PowerState:<tspan x="1716" dy="9">poweredOff</tspan></text></g>
<g id="iqt-mem" class="c11"><ellipse cx="1546.7" cy="854" rx="29.2" ry="15.5"/><text x="1546.7" y="853">MemoryMB:<tspan x="1546.7" dy="9">2048</tspan></text></g>
<g id="iqt-hw" class="c11"><ellipse cx="1725.3" cy="866.6" rx="40" ry="16"/><text x="1725.3" y="865.6">HardwareVersion:<tspan x="1725.3" dy="9">nan</tspan></text></g>
<g id="iqt-ver" class="c11"><ellipse cx="1589.3" cy="918.3" rx="22.2" ry="15.8"/><text x="1589.3" y="917.3">Version:<tspan x="1589.3" dy="9">vmx-07</tspan></text></g>
<g id="iqt-guest" class="c11"><ellipse cx="1667" cy="925.7" rx="35" ry="16.2"/><text x="1667" y="924.7">GuestId:<tspan x="1667" dy="9">ubuntu64Guest</tspan></text></g>

<g id="ctl-guest" class="c12"><ellipse cx="1155" cy="855" rx="35.8" ry="14.7"/><text x="1155" y="854">GuestId:<tspan x="1155" dy="9">ubuntu64Guest</tspan></text></g>
<g id="ctl-mem" class="c12"><ellipse cx="1234.7" cy="837" rx="30.3" ry="15.8"/><text x="1234.7" y="836">MemoryMB:<tspan x="1234.7" dy="9">4096</tspan></text></g>
<g id="ctl-ver" class="c12"><ellipse cx="1295.3" cy="884" rx="23" ry="16.2"/><text x="1295.3" y="883">Version:<tspan x="1295.3" dy="9">vmx-14</tspan></text></g>
<g id="ctl-power" class="c12"><ellipse cx="1120.3" cy="921.3" rx="28" ry="15"/><text x="1120.3" y="920.3">PowerState:<tspan x="1120.3" dy="9">poweredOn</tspan></text></g>
<g id="ctl-numcpu" class="c12"><ellipse cx="1297" cy="958" rx="25.3" ry="16.7"/><text x="1297" y="957">NumCpu:<tspan x="1297" dy="9">2</tspan></text></g>
<g id="ctl-conn" class="c12"><ellipse cx="1158.7" cy="992" rx="38.8" ry="15.8"/><text x="1158.7" y="991">ConnectionState:<tspan x="1158.7" dy="9">connected</tspan></text></g>
<g id="ctl-hw" class="c12"><ellipse cx="1232.3" cy="1006.3" rx="40" ry="16.3"/><text x="1232.3" y="1005.3">HardwareVersion:<tspan x="1232.3" dy="9">nan</tspan></text></g>

<g id="ti-numcpu" class="c13"><ellipse cx="611.5" cy="963.7" rx="24.8" ry="15.8"/><text x="611.5" y="962.7">NumCpu:<tspan x="611.5" dy="9">1</tspan></text></g>
<g id="ti-conn" class="c13"><ellipse cx="685.3" cy="972.3" rx="39.5" ry="15.5"/><text x="685.3" y="971.3">ConnectionState:<tspan x="685.3" dy="9">connected</tspan></text></g>
<g id="ti-power" class="c13"><ellipse cx="549.1" cy="1022.3" rx="28.7" ry="15.5"/><text x="549.1" y="1021.3">PowerState:<tspan x="549.1" dy="9">poweredOn</tspan></text></g>
<g id="ti-hw" class="c13"><ellipse cx="724.6" cy="1038.7" rx="40.4" ry="15.8"/><text x="724.6" y="1037.7">HardwareVersion:<tspan x="724.6" dy="9">nan</tspan></text></g>
<g id="ti-mem" class="c13"><ellipse cx="557.6" cy="1097" rx="30.1" ry="15.8"/><text x="557.6" y="1096">MemoryMB:<tspan x="557.6" dy="9">2048</tspan></text></g>
<g id="ti-guest" class="c13"><ellipse cx="697" cy="1113.7" rx="39.5" ry="15.8"/><text x="697" y="1112.7">GuestId:<tspan x="697" dy="9">centos8_64Guest</tspan></text></g>
<g id="ti-ver" class="c13"><ellipse cx="621.4" cy="1138.7" rx="22.5" ry="15.8"/><text x="621.4" y="1137.7">Version:<tspan x="621.4" dy="9">vmx-14</tspan></text></g>

<g id="tso-conn" class="c14"><ellipse cx="951.2" cy="958" rx="39" ry="15"/><text x="951.2" y="957">ConnectionState:<tspan x="951.2" dy="9">connected</tspan></text></g>
<g id="tso-ver" class="c14"><ellipse cx="876.8" cy="1000.3" rx="23" ry="15"/><text x="876.8" y="999.3">Version:<tspan x="876.8" dy="9">vmx-07</tspan></text></g>
<g id="tso-power" class="c14"><ellipse cx="1020" cy="1000.7" rx="29.3" ry="15.8"/><text x="1020" y="999.7">PowerState:<tspan x="1020" dy="9">poweredOn</tspan></text></g>
<g id="tso-numcpu" class="c14"><ellipse cx="863.6" cy="1029" rx="25.2" ry="15.8"/><text x="863.6" y="1028">NumCpu:<tspan x="863.6" dy="9">2</tspan></text></g>
<g id="tso-mem" class="c14"><ellipse cx="1031.7" cy="1083.7" rx="29.3" ry="15.8"/><text x="1031.7" y="1082.7">MemoryMB:<tspan x="1031.7" dy="9">8192</tspan></text></g>
<g id="tso-guest" class="c14"><ellipse cx="896.6" cy="1121" rx="35.8" ry="15.8"/><text x="896.6" y="1120">GuestId:<tspan x="896.6" dy="9">ubuntu64Guest</tspan></text></g>
<g id="tso-hw" class="c14"><ellipse cx="978.5" cy="1130.3" rx="40.8" ry="15.8"/><text x="978.5" y="1129.3">HardwareVersion:<tspan x="978.5" dy="9">nan</tspan></text></g>

<g id="hic-mem" class="c15"><ellipse cx="1321" cy="1126.3" rx="30" ry="15.3"/><text x="1321" y="1125.3">MemoryMB:<tspan x="1321" dy="9">4096</tspan></text></g>
<g id="hic-numcpu" class="c15"><ellipse cx="1246.3" cy="1163.3" rx="25.3" ry="15.7"/><text x="1246.3" y="1162.3">NumCpu:<tspan x="1246.3" dy="9">1</tspan></text></g>
<g id="hic-conn" class="c15"><ellipse cx="1391" cy="1157.3" rx="39.2" ry="16.2"/><text x="1391" y="1156.3">ConnectionState:<tspan x="1391" dy="9">connected</tspan></text></g>
<g id="hic-hw" class="c15"><ellipse cx="1228.7" cy="1241" rx="40.5" ry="15.3"/><text x="1228.7" y="1240">HardwareVersion:<tspan x="1228.7" dy="9">nan</tspan></text></g>
<g id="hic-ver" class="c15"><ellipse cx="1409" cy="1232.7" rx="22" ry="16.2"/><text x="1409" y="1231.7">Version:<tspan x="1409" dy="9">vmx-13</tspan></text></g>
<g id="hic-power" class="c15"><ellipse cx="1278" cy="1299.3" rx="29.5" ry="15.8"/><text x="1278" y="1298.3">PowerState:<tspan x="1278" dy="9">poweredOn</tspan></text></g>
<g id="hic-guest" class="c15"><ellipse cx="1360" cy="1298" rx="35" ry="16.3"/><text x="1360" y="1297">GuestId:<tspan x="1360" dy="9">ubuntu64Guest</tspan></text></g>

<g id="icap2-conn" class="c16"><ellipse cx="752.7" cy="1298.3" rx="39.2" ry="15.8"/><text x="752.7" y="1297.3">ConnectionState:<tspan x="752.7" dy="9">connected</tspan></text></g>
<g id="icap2-mem" class="c16"><ellipse cx="829.3" cy="1275" rx="28.3" ry="15.5"/><text x="829.3" y="1274">MemoryMB:<tspan x="829.3" dy="9">8192</tspan></text></g>
<g id="icap2-guest" class="c16"><ellipse cx="897.7" cy="1322" rx="35" ry="16.2"/><text x="897.7" y="1321">GuestId:<tspan x="897.7" dy="9">ubuntu64Guest</tspan></text></g>
<g id="icap2-power" class="c16"><ellipse cx="721.7" cy="1366.7" rx="29.2" ry="15.8"/><text x="721.7" y="1365.7">PowerState:<tspan x="721.7" dy="9">poweredOff</tspan></text></g>
<g id="icap2-ver" class="c16"><ellipse cx="902" cy="1394" rx="22.8" ry="16.3"/><text x="902" y="1393">Version:<tspan x="902" dy="9">vmx-07</tspan></text></g>
<g id="icap2-hw" class="c16"><ellipse cx="760" cy="1434" rx="40.2" ry="16.3"/><text x="760" y="1433">HardwareVersion:<tspan x="760" dy="9">nan</tspan></text></g>
<g id="icap2-numcpu" class="c16"><ellipse cx="841.7" cy="1453.3" rx="25" ry="15.8"/><text x="841.7" y="1452.3">NumCpu:<tspan x="841.7" dy="9">4</tspan></text></g>
</g>
</svg>
